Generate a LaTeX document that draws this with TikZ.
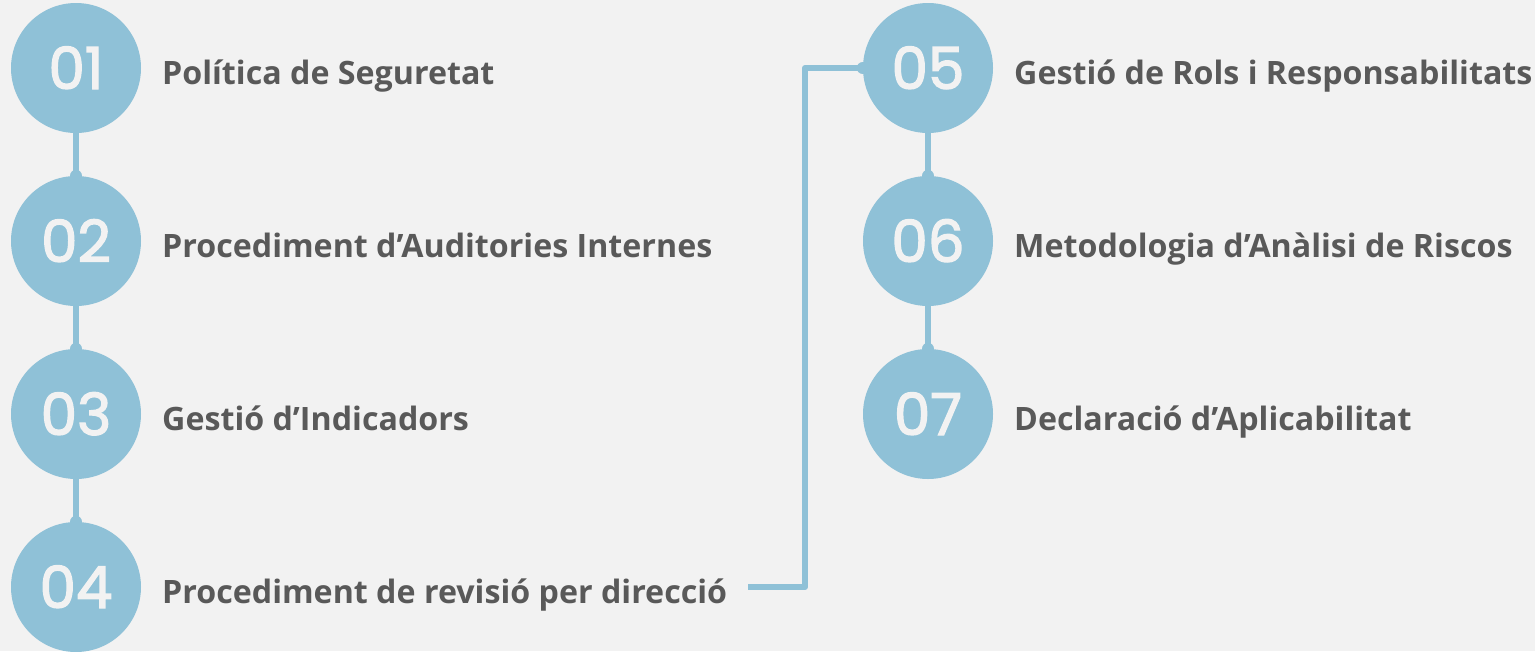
\documentclass[tikz,border=0pt]{standalone}
\usepackage{fontspec}
\setmainfont{Open Sans}
\newfontfamily\numfont{Poppins}[FakeBold=2.2]
\definecolor{bg}{HTML}{F2F2F2}
\definecolor{blu}{HTML}{8FC1D7}
\definecolor{txt}{HTML}{595959}
\tikzset{
  stepcircle/.style={circle,fill=blu,minimum size=130pt,inner sep=0pt},
  numlabel/.style={font=\numfont\fontsize{58}{58}\selectfont,text=bg,anchor=base,inner sep=0pt},
  itemlabel/.style={font=\bfseries\fontsize{32.2}{38}\selectfont,text=txt,anchor=base west,inner sep=0pt},
  link/.style={draw=blu,line width=6pt},
  linkdot/.style={fill=blu},
}
\begin{document}
\begin{tikzpicture}[x=1pt,y=-1pt]
\fill[bg] (0,0) rectangle (1535,651);
\useasboundingbox (0,0) rectangle (1535,651);
% circles
\foreach \n/\cx/\cy in {01/76/68,02/76/241,03/76/414,04/76/587,05/928/68,06/928/241,07/928/414}{
  \node[stepcircle] (c\n) at (\cx,\cy) {};
  \node[numlabel] (n\n) at (\cx,\cy+21) {\n};
}
% labels
\node[itemlabel] (t01) at (162,84) {Política de Seguretat};
\node[itemlabel] (t02) at (162,257) {Procediment d’Auditories Internes};
\node[itemlabel] (t03) at (162,430) {Gestió d’Indicadors};
\node[itemlabel] (t04) at (162,603) {Procediment de revisió per direcció};
\node[itemlabel] (t05) at (1014,84) {Gestió de Rols i Responsabilitats};
\node[itemlabel] (t06) at (1014,257) {Metodologia d’Anàlisi de Riscos};
\node[itemlabel] (t07) at (1014,430) {Declaració d’Aplicabilitat};
% connectors
\foreach \a/\b in {01/02,02/03,03/04,05/06,06/07}{
  \draw[link] (c\a.south) -- (c\b.north);
  \fill[linkdot] (c\b.north) circle (6pt);
}
\coordinate (s04) at (748,587);
\coordinate (k04) at (805,587);
\coordinate (k05) at (805,68);
\draw[link,line join=round] (s04) -- (k04) -- (k05) -- (c05.west);
\fill[linkdot] (c05.west) circle (6pt);
\end{tikzpicture}
\end{document}
